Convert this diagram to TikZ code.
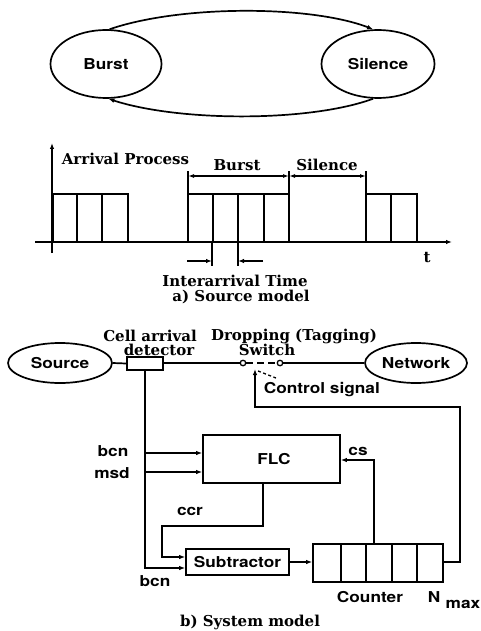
\documentclass[tikz,border=0pt]{standalone}
\usepackage{fontspec}
\usetikzlibrary{shapes.geometric,arrows.meta}
\newfontfamily\hvfont[FakeStretch=1.15]{TeX Gyre Heros}
\newfontfamily\sefont{DejaVu Serif}
\begin{document}
\begin{tikzpicture}[x=1pt,y=-1pt,line width=1.7pt,
  sans/.style={font=\hvfont\bfseries\fontsize{15}{17}\selectfont,inner sep=0pt},
  serif/.style={font=\sefont\bfseries\fontsize{15}{16}\selectfont,inner sep=0pt},
  oval/.style={draw,ellipse,inner sep=0pt},
  box/.style={draw,rectangle,inner sep=0pt},
  tip/.style={-{Latex[length=6pt,width=4.5pt]}},
  dtip/.style={{Latex[length=6pt,width=4pt]}-{Latex[length=6pt,width=4pt]}},
  swc/.style={draw,circle,fill=white,minimum size=5.5pt,inner sep=0pt,line width=1.3pt}]
\useasboundingbox (0,0) rectangle (480,631);
% ---------- a) source model: state diagram
\node[oval,sans,minimum width=111pt,minimum height=68pt] (burst) at (106,64) {Burst};
\node[oval,sans,minimum width=113pt,minimum height=68pt] (silence) at (378,64) {Silence};
\draw[tip] (burst.84) .. controls (180,5) and (310,5) .. (silence.98);
\draw[tip] (silence.262) .. controls (310,122) and (180,122) .. (burst.274);
% ---------- arrival process
\draw[tip] (52,253) -- (52,143);
\draw[tip] (35,242) -- (452,242);
\foreach \a/\b in {53/77,77/102,102/128,188/213,213/238,238/264,264/289,366/391,391/417}
  \draw (\a,242) rectangle (\b,194);
\draw (188,194) -- (188,171) (289,194) -- (289,171) (366,194) -- (366,171);
\draw[dtip] (188,176) -- (289,176);
\draw[dtip] (289,176) -- (366,176);
\draw (212,242) -- (212,266) (238,242) -- (238,266);
\draw[tip] (187,261) -- (212,261);
\draw[tip] (263,261) -- (238,261);
\node[serif,anchor=west] (arrproc) at (61,159) {Arrival Process};
\node[serif] (lburst) at (237,165) {Burst};
\node[serif] (lsil) at (327,165) {Silence};
\node[serif] (lt) at (427,258) {t};
\node[serif] (linter) at (235,281) {Interarrival Time};
\node[serif] (capa) at (241,297) {a) Source model};
% ---------- b) system model
\node[oval,sans,minimum width=104pt,minimum height=40pt] (source) at (60,363) {Source};
\node[oval,sans,minimum width=102pt,minimum height=40pt] (network) at (416,363) {Network};
\node[box,minimum width=36pt,minimum height=13pt] (detector) at (145,363.5) {};
\node[swc] (swl) at (243,363) {};
\node[swc] (swr) at (280,363) {};
\draw (source.east) -- (detector.west);
\draw (detector.east |- swl) -- (swl.west);
\draw (swr.east) -- (network.west);
\draw[line width=1.3pt,dash pattern=on 7pt off 4pt] (swl.east) -- (swr.west);
\draw[line width=1.3pt,dash pattern=on 3pt off 2.5pt] (258,371) -- (276,378);
\node[serif] (lcell) at (150,336) {Cell arrival};
\node[serif] (ldet) at (159,350) {detector};
\node[serif] (ldrop) at (294,336) {Dropping (Tagging)};
\node[serif] (lswitch) at (267,350) {Switch};
\node[sans,anchor=west] (lctl) at (263,390) {Control signal};
% blocks
\node[box,sans,minimum width=137pt,minimum height=48pt] (flc) at (271.5,459) {};
\node[sans] (lflc) at (274,459) {FLC};
\node[box,sans,minimum width=103pt,minimum height=26pt] (sub) at (237.5,562) {Subtractor};
\node[box,minimum width=130pt,minimum height=38pt] (counter) at (378,563) {};
\foreach \x in {341,366,392,417} \draw (\x,544) -- (\x,582);
% connectors
\coordinate (ctl) at (255,369);
\coordinate (vb) at (145,568);
\draw[tip] (detector.south) -- (vb) -- (sub.west |- vb);
\draw[tip] (145,453) -- (flc.west |- 0,453);
\draw[tip] (145,472) -- (flc.west |- 0,472);
\draw[tip] (flc.south -| 263,0) -- (263,526) -- (162,526) -- (162,557) -- (sub.west |- 0,557);
\draw[tip] (sub.east) -- (counter.west |- sub.east);
\draw[tip] (374,544) -- (374,460) -- (flc.east |- 0,460);
\draw[tip] (counter.east |- 0,562) -- (460,562) -- (460,407) -- (255,407) -- (ctl);
% labels
\node[sans] (lbcn) at (113,451) {bcn};
\node[sans] (lmsd) at (112,473) {msd};
\node[sans] (lccr) at (190,511) {ccr};
\node[sans] (lcs) at (358,451) {cs};
\node[sans] (lbcn2) at (155,581) {bcn};
\node[sans] (lcounter) at (370,597) {Counter};
\node[sans] (ln) at (434,597) {N};
\node[sans] (lmax) at (463,604) {max};
\node[serif] (capb) at (250,622) {b) System model};
\end{tikzpicture}
\end{document}
